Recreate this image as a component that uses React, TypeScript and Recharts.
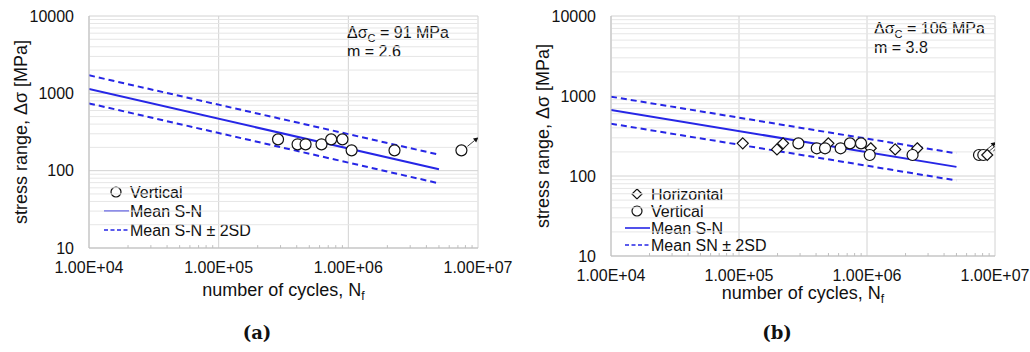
import React from "react";
import {
  ComposedChart,
  Line,
  Scatter,
  XAxis,
  YAxis,
  CartesianGrid,
  ReferenceLine,
} from "recharts";

const FONT = '"Liberation Sans", Arial, sans-serif';
const BLUE = "#2626e6";
const INK = "#111";

// axes
const xTicks = [1e4, 1e5, 1e6, 1e7];
const xMinor = [
  2e4, 3e4, 4e4, 5e4, 6e4, 7e4, 8e4, 9e4,
  2e5, 3e5, 4e5, 5e5, 6e5, 7e5, 8e5, 9e5,
  2e6, 3e6, 4e6, 5e6, 6e6, 7e6, 8e6, 9e6,
];
const yTicks = [10, 100, 1000, 10000];
const yMinor = [
  20, 30, 40, 50, 60, 70, 80, 90,
  200, 300, 400, 500, 600, 700, 800, 900,
  2000, 3000, 4000, 5000, 6000, 7000, 8000, 9000,
];

// panel (a)
const vertA = [
  { n: 2.87e5, s: 254 },
  { n: 4.06e5, s: 219 },
  { n: 4.68e5, s: 219 },
  { n: 6.21e5, s: 219 },
  { n: 7.37e5, s: 254 },
  { n: 9.01e5, s: 254 },
  { n: 1.06e6, s: 183 },
  { n: 2.27e6, s: 183 },
];
const runVertA = [{ n: 7.45e6, s: 183 }];
const meanA = [{ n: 1e4, s: 1138 }, { n: 5e6, s: 104 }];
const upperA = [{ n: 1e4, s: 1710 }, { n: 5e6, s: 161 }];
const lowerA = [{ n: 1e4, s: 742 }, { n: 5e6, s: 68.6 }];

// panel (b)
const horizB = [
  { n: 1.07e5, s: 256 },
  { n: 1.98e5, s: 215 },
  { n: 2.21e5, s: 256 },
  { n: 4.99e5, s: 256 },
  { n: 1.07e6, s: 222 },
  { n: 1.66e6, s: 215 },
  { n: 2.47e6, s: 222 },
];
const vertB = [
  { n: 2.91e5, s: 256 },
  { n: 4.05e5, s: 222 },
  { n: 4.7e5, s: 222 },
  { n: 6.22e5, s: 222 },
  { n: 7.36e5, s: 256 },
  { n: 8.98e5, s: 256 },
  { n: 1.05e6, s: 183 },
  { n: 2.27e6, s: 183 },
];
const runVertB = [{ n: 7.5e6, s: 183 }, { n: 8.1e6, s: 183 }];
const runHorizB = [{ n: 8.7e6, s: 183 }];
const meanB = [{ n: 1e4, s: 668 }, { n: 5e6, s: 130 }];
const upperB = [{ n: 1e4, s: 981 }, { n: 5e6, s: 192 }];
const lowerB = [{ n: 1e4, s: 451 }, { n: 5e6, s: 88 }];

const sci = (v: number) => {
  const e = Math.round(Math.log10(v));
  return `${(v / 10 ** e).toFixed(2)}E+${String(e).padStart(2, "0")}`;
};

const circle = (cx: number, cy: number, r = 5.5) => (
  <circle cx={cx} cy={cy} r={r} fill="#fff" stroke={INK} strokeWidth={1.2} />
);
const diamond = (cx: number, cy: number, r = 5.5) => (
  <polygon
    points={`${cx},${cy - r} ${cx + r},${cy} ${cx},${cy + r} ${cx - r},${cy}`}
    fill="#fff"
    stroke={INK}
    strokeWidth={1.2}
  />
);

const arrow = (cx: number, cy: number) => {
  const x1 = cx + 6, y1 = cy - 4, x2 = cx + 17, y2 = cy - 13;
  const a = Math.atan2(y2 - y1, x2 - x1);
  const h = 5, w = 2.5;
  const bx = x2 - h * Math.cos(a), by = y2 - h * Math.sin(a);
  const p1 = `${bx + w * Math.sin(a)},${by - w * Math.cos(a)}`;
  const p2 = `${bx - w * Math.sin(a)},${by + w * Math.cos(a)}`;
  return (
    <g>
      <line x1={x1} y1={y1} x2={bx} y2={by} stroke={INK} strokeWidth={0.8} />
      <polygon points={`${x2},${y2} ${p1} ${p2}`} fill={INK} />
    </g>
  );
};

const CircleDot = (p: any) => circle(p.cx, p.cy);
const DiamondDot = (p: any) => diamond(p.cx, p.cy);
const CircleRun = (p: any) => (
  <g>
    {circle(p.cx, p.cy)}
    {arrow(p.cx, p.cy)}
  </g>
);
const DiamondRun = (p: any) => (
  <g>
    {diamond(p.cx, p.cy)}
    {arrow(p.cx, p.cy)}
  </g>
);

function LegendBox({ items, gap, x, y }: any) {
  return (
    <g transform={`translate(${x},${y})`}>
      {items.map((it: any, i: number) => {
        const cy = i * gap;
        let sym = null;
        if (it.kind === "circle") sym = circle(12, cy, 5);
        if (it.kind === "diamond") sym = diamond(12, cy, 5);
        if (it.kind === "solid")
          sym = <line x1={0} x2={25} y1={cy} y2={cy} stroke={BLUE} strokeWidth={1.6} />;
        if (it.kind === "dash")
          sym = (
            <line x1={0} x2={25} y1={cy} y2={cy} stroke={BLUE} strokeWidth={1.6} strokeDasharray="4 2.5" />
          );
        return (
          <g key={i}>
            {sym}
            <text x={26} y={cy + 6} fontFamily={FONT} fontSize={16} fill={INK}>
              {it.label}
            </text>
          </g>
        );
      })}
    </g>
  );
}

function Panel(props: any) {
  const {
    width, height, margin, yWidth, legendItems, legendPos, legendGap,
    series, lines, note, noteX, noteY, titleDy, yTitleDx,
  } = props;
  return (
    <ComposedChart width={width} height={height} margin={margin}>
      {yMinor.map((v) => (
        <ReferenceLine key={"ym" + v} y={v} stroke="#e6e6e6" strokeWidth={1} />
      ))}
      <CartesianGrid stroke="#d2d2d2" />
      {xMinor.map((v) => (
        <ReferenceLine
          key={"xm" + v}
          segment={[{ x: v, y: 10 }, { x: v, y: 10.9 }]}
          stroke="#bfbfbf"
        />
      ))}
      <XAxis
        dataKey="n"
        type="number"
        scale="log"
        domain={[1e4, 1e7]}
        ticks={xTicks}
        tickFormatter={sci}
        allowDataOverflow
        stroke="#bfbfbf"
        tickLine={false}
        tickSize={0}
        tickMargin={14}
        height={40}
        tick={{ fill: INK, fontSize: 16, fontFamily: FONT }}
        label={{
          content: (lp: any) => {
            const vb = lp.viewBox;
            return (
              <text
                x={vb.x + vb.width / 2}
                y={vb.y + titleDy}
                textAnchor="middle"
                fontFamily={FONT}
                fontSize={18}
                fill={INK}
              >
                number of cycles, N
                <tspan fontSize={12} dy={4}>f</tspan>
              </text>
            );
          },
        }}
      />
      <YAxis
        dataKey="s"
        type="number"
        scale="log"
        domain={[10, 10000]}
        ticks={yTicks}
        allowDataOverflow
        width={yWidth}
        stroke="#bfbfbf"
        tickLine={false}
        tickSize={0}
        tickMargin={15}
        tick={{ fill: INK, fontSize: 16, fontFamily: FONT }}
        label={{
          content: (lp: any) => {
            const vb = lp.viewBox;
            const x = vb.x + yTitleDx;
            const y = vb.y + vb.height / 2;
            return (
              <text
                x={x}
                y={y}
                transform={`rotate(-90 ${x} ${y})`}
                textAnchor="middle"
                fontFamily={FONT}
                fontSize={18}
                fill={INK}
              >
                stress range, Δσ [MPa]
              </text>
            );
          },
        }}
      />
      {lines.map((l: any, i: number) => (
        <Line
          key={"l" + i}
          data={l.data}
          dataKey="s"
          type="linear"
          stroke={BLUE}
          strokeWidth={2}
          strokeDasharray={l.dash ? "6 4" : undefined}
          dot={false}
          activeDot={false}
          isAnimationActive={false}
          legendType="none"
        />
      ))}
      {series.map((s: any, i: number) => (
        <Scatter
          key={"s" + i}
          data={s.data}
          dataKey="s"
          shape={s.shape}
          isAnimationActive={false}
          legendType="none"
        />
      ))}
      <LegendBox items={legendItems} gap={legendGap} x={legendPos[0]} y={legendPos[1]} />
      <text x={noteX} y={noteY} fontFamily={FONT} fontSize={16} fill={INK}>
        Δσ<tspan fontSize={11} dy={4}>C</tspan>
        <tspan dy={-4}>{` = ${note[0]} MPa`}</tspan>
      </text>
      <text x={noteX} y={noteY + 19} fontFamily={FONT} fontSize={16} fill={INK}>
        {`m = ${note[1]}`}
      </text>
    </ComposedChart>
  );
}

const captionStyle: React.CSSProperties = {
  position: "absolute",
  top: 322,
  transform: "translateX(-50%)",
  fontFamily: '"DejaVu Serif", "Liberation Serif", serif',
  fontWeight: "bold",
  fontSize: 18,
  color: INK,
};

export default function App() {
  return (
    <div
      style={{
        position: "absolute",
        left: 0,
        top: 0,
        width: 1030,
        height: 352,
        background: "#fff",
        overflow: "hidden",
      }}
    >
      <div style={{ position: "absolute", left: 0, top: 0 }}>
        <Panel
          width={520}
          height={310}
          margin={{ top: 16, right: 42, bottom: 22, left: 19 }}
          yWidth={70}
          yTitleDx={8}
          titleDy={48}
          legendItems={[
            { kind: "circle", label: "Vertical" },
            { kind: "solid", label: "Mean S-N" },
            { kind: "dash", label: "Mean S-N ± 2SD" },
          ]}
          legendPos={[104, 192]}
          legendGap={19}
          lines={[
            { data: meanA, dash: false },
            { data: upperA, dash: true },
            { data: lowerA, dash: true },
          ]}
          series={[
            { data: vertA, shape: CircleDot },
            { data: runVertA, shape: CircleRun },
          ]}
          note={["91", "2.6"]}
          noteX={347}
          noteY={38}
        />
      </div>
      <div style={{ position: "absolute", left: 520, top: 0 }}>
        <Panel
          width={510}
          height={310}
          margin={{ top: 16, right: 35, bottom: 14, left: 21 }}
          yWidth={70}
          yTitleDx={8}
          titleDy={43}
          legendItems={[
            { kind: "diamond", label: "Horizontal" },
            { kind: "circle", label: "Vertical" },
            { kind: "solid", label: "Mean S-N" },
            { kind: "dash", label: "Mean SN ± 2SD" },
          ]}
          legendPos={[105, 194]}
          legendGap={17}
          lines={[
            { data: meanB, dash: false },
            { data: upperB, dash: true },
            { data: lowerB, dash: true },
          ]}
          series={[
            { data: horizB, shape: DiamondDot },
            { data: vertB, shape: CircleDot },
            { data: runVertB, shape: CircleRun },
            { data: runHorizB, shape: DiamondRun },
          ]}
          note={["106", "3.8"]}
          noteX={354}
          noteY={34}
        />
      </div>
      <div style={{ ...captionStyle, left: 257 }}>(a)</div>
      <div style={{ ...captionStyle, left: 777 }}>(b)</div>
    </div>
  );
}
